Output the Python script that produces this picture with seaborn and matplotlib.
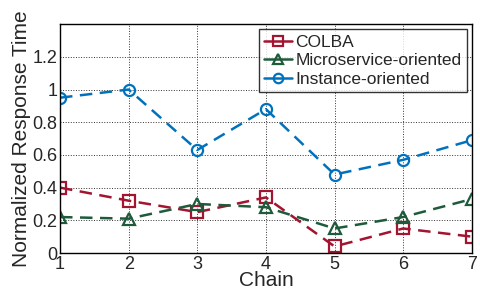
import pandas as pd
import seaborn as sns
import matplotlib.pyplot as plt

chain = [1, 2, 3, 4, 5, 6, 7]
colba = [0.40, 0.32, 0.25, 0.34, 0.04, 0.15, 0.10]
micro = [0.22, 0.21, 0.30, 0.28, 0.15, 0.22, 0.33]
instance = [0.95, 1.00, 0.63, 0.88, 0.48, 0.57, 0.69]

series = ["COLBA", "Microservice-oriented", "Instance-oriented"]
colors = ["#A2142F", "#1E5B3A", "#0072BD"]
markers = ["s", "^", "o"]

df = pd.DataFrame({"Chain": chain, "COLBA": colba,
                   "Microservice-oriented": micro, "Instance-oriented": instance})
df = df.melt(id_vars="Chain", var_name="method", value_name="time")

sns.set_theme(style="white")
plt.rcParams['font.family'] = ['Liberation Sans', 'DejaVu Sans']

fig = plt.figure(figsize=(4.8, 2.98), dpi=100)
ax = fig.add_axes([0.125, 0.151, 0.858, 0.768])

for name, c, m in zip(series, colors, markers):
    sns.lineplot(data=df[df["method"] == name], x="Chain", y="time", ax=ax,
                 color=c, marker=m, markersize=8, markerfacecolor="none",
                 markeredgecolor=c, markeredgewidth=1.6, linewidth=1.8,
                 linestyle=(0, (5, 3)), label=name)

ax.set_xlim(1, 7)
ax.set_ylim(0, 1.4)
ax.set_xticks(chain)
ax.set_yticks([0, 0.2, 0.4, 0.6, 0.8, 1.0, 1.2])
ax.set_yticklabels(["0", "0.2", "0.4", "0.6", "0.8", "1", "1.2"])
ax.tick_params(labelsize=13, direction="in", length=4, pad=2)
ax.grid(True, color="#333333", linestyle=":", linewidth=0.7)
for s in ax.spines.values():
    s.set_color("black")
    s.set_linewidth(1.0)
ax.set_xlabel("Chain", fontsize=15, labelpad=-1)
ax.set_ylabel("Normalized Response Time", fontsize=15, labelpad=1)

leg = ax.legend(loc="upper right", fontsize=12.5, frameon=True, fancybox=False,
                borderpad=0.3, labelspacing=0.2, handlelength=1.6,
                handletextpad=0.2, borderaxespad=0.3, markerscale=0.85)
leg.get_frame().set_edgecolor("black")
leg.get_frame().set_linewidth(1.0)
for h in leg.get_lines():
    h.set_linestyle("-")

fig.savefig("out.png", dpi=100)
